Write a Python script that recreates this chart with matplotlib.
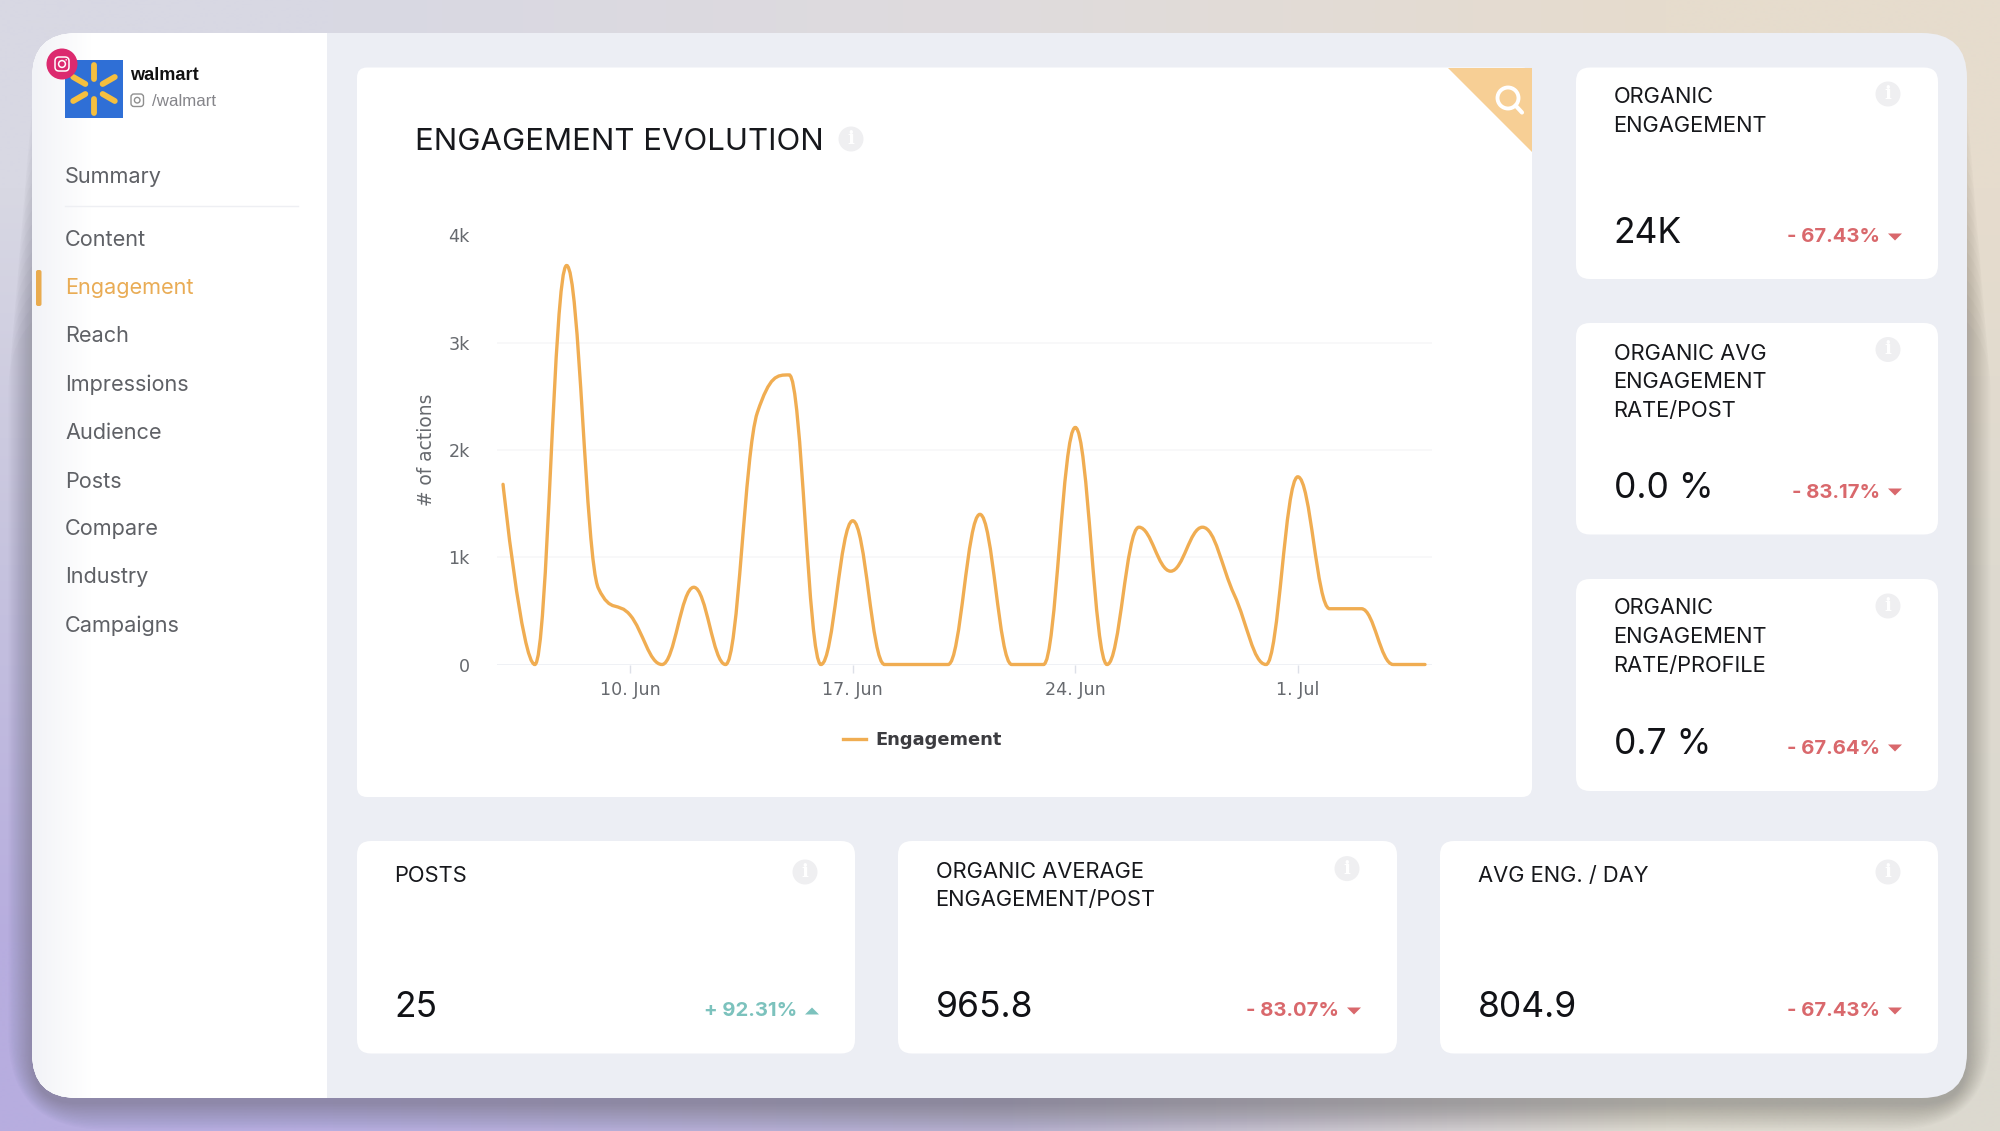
import numpy as np
import matplotlib
matplotlib.use('Agg')
import matplotlib.pyplot as plt
from matplotlib.patches import FancyBboxPatch, Polygon, Circle, Rectangle, PathPatch
from matplotlib.path import Path
from matplotlib.transforms import IdentityTransform

# daily engagement, 6 Jun .. 5 Jul (day number counted from 1 Jun, 1 Jul = 31)
days = np.arange(6, 36)
engagement = [1680, 0, 3720, 710, 460, 0, 720, 0, 2350, 2700,
              0, 1340, 0, 0, 0, 1400, 0, 0, 2210, 0,
              1280, 870, 1280, 650, 0, 1750, 520, 520, 0, 0]
x_ticks = [10, 17, 24, 31]
x_tick_labels = ['10. Jun', '17. Jun', '24. Jun', '1. Jul']
y_ticks = [0, 1000, 2000, 3000, 4000]
y_tick_labels = ['0', '1k', '2k', '3k', '4k']

menu_items = ['Summary', 'Content', 'Engagement', 'Reach', 'Impressions',
              'Audience', 'Posts', 'Compare', 'Industry', 'Campaigns']
menu_y = [175, 238.5, 286, 334, 383, 431, 479.5, 527, 575, 624]

card_titles = [['ORGANIC', 'ENGAGEMENT'],
               ['ORGANIC AVG', 'ENGAGEMENT', 'RATE/POST'],
               ['ORGANIC', 'ENGAGEMENT', 'RATE/PROFILE'],
               ['POSTS'],
               ['ORGANIC AVERAGE', 'ENGAGEMENT/POST'],
               ['AVG ENG. / DAY']]
card_values = ['24K', '0.0 %', '0.7 %', '25', '965.8', '804.9']
card_deltas = ['- 67.43%', '- 83.17%', '- 67.64%', '+ 92.31%', '- 83.07%', '- 67.43%']

# card boxes: left, top, right, bottom in pixels
card_boxes = [(1576, 67.5, 1938, 279), (1576, 323, 1938, 534.5), (1576, 579, 1938, 791),
              (357, 841, 855, 1053.5), (898, 841, 1397, 1053.5), (1440, 841, 1938, 1053.5)]
title_y = [95.5, 352, 607, 874, 870, 874]
value_y = [230, 485, 741, 1004, 1004, 1004]
delta_y = [236, 491, 747, 1010, 1010, 1010]
info_xy = [(1888, 94), (1888, 349.5), (1888, 606), (805, 872), (1347, 868.6), (1888, 872)]

ui_font = 'Inter'
ORANGE = '#f0ad52'
RED = '#d9686c'
TEAL = '#7cc2bd'
PANEL = '#eceef4'

fig = plt.figure(figsize=(20, 11.31), dpi=100)
bg = fig.add_axes([0, 0, 1, 1])
bg.axis('off')

# backdrop gradient
grad = np.array([[[0xd8, 0xd8, 0xe3], [0xdf, 0xdb, 0xdd], [0xe6, 0xdc, 0xcd]],
                 [[0xc6, 0xc3, 0xde], [0xd0, 0xcd, 0xd8], [0xde, 0xda, 0xd0]],
                 [[0xb7, 0xad, 0xdf], [0xb4, 0xae, 0xcc], [0xdc, 0xd9, 0xcf]]]) / 255.
bg.imshow(grad, extent=(0, 2000, 1131, 0), interpolation='bilinear', aspect='auto', zorder=0)


def rbox(l, t, r, b, rad, **kw):
    p = FancyBboxPatch((l, t), r - l, b - t, boxstyle='round,pad=0,rounding_size=%g' % rad,
                       linewidth=0, **kw)
    bg.add_patch(p)
    return p


# window shadow, mostly below and at the sides
for i in range(18):
    rbox(32 - i * 1.4, 60 + i * 14, 1967 + i * 1.4, 1098 + i * 1.5 + 6, 45 + i * 3, facecolor='k',
         alpha=0.013, zorder=1)

window = rbox(32, 33, 1967, 1098, 45, facecolor=PANEL, zorder=2)

# sidebar
side = bg.add_patch(Rectangle((32, 33), 295, 1065, facecolor='white', linewidth=0, zorder=3))
side.set_clip_path(window)
shade = np.linspace(0, 1, 60).reshape(1, -1)
side_grad = bg.imshow(shade, extent=(32, 92, 1098, 33), cmap=matplotlib.colors.LinearSegmentedColormap.from_list('s', ['#f2f3f7', '#ffffff']),
                      aspect='auto', zorder=3.5)
side_grad.set_clip_path(window)
bg.set_xlim(0, 2000)
bg.set_ylim(1131, 0)

# logo
bg.add_patch(Rectangle((65, 60), 58, 58, facecolor='#2f6fd6', linewidth=0, zorder=4))
for a in [90, 30, -30, -90, -150, 150]:
    c, s = np.cos(np.radians(a)), np.sin(np.radians(a))
    bg.plot([94 + 10 * c, 94 + 24 * c], [89 - 10 * s, 89 - 24 * s], color='#f5bf3f', lw=4.2,
            solid_capstyle='round', zorder=5)
bg.add_patch(Circle((62, 64), 15.5, facecolor='#dc2a6f', linewidth=0, zorder=6))
rbox(55, 57, 69, 71, 4, facecolor='none', edgecolor='white', zorder=7).set_linewidth(1.1)
bg.add_patch(Circle((62, 64), 3.4, facecolor='none', edgecolor='white', linewidth=1.1, zorder=7))
bg.add_patch(Circle((66.2, 59.8), 0.8, facecolor='white', linewidth=0, zorder=7))

bg.text(130, 76, 'walmart', family='Liberation Sans', weight='bold', fontsize=13.1, color='#111111',
        va='center', zorder=7)
rbox(131, 94, 143.5, 106.5, 3, facecolor='none', edgecolor='#8f8f8f', zorder=7).set_linewidth(1)
bg.add_patch(Circle((137.2, 100.2), 2.8, facecolor='none', edgecolor='#8f8f8f', linewidth=1, zorder=7))
bg.text(152, 101, '/walmart', family='Liberation Sans', fontsize=12.2, color='#85858a', va='center', zorder=7)

# menu
for item, y in zip(menu_items, menu_y):
    col = '#e9ac55' if item == 'Engagement' else '#5f6166'
    bg.text(65, y + 2, item, family=ui_font, fontsize=15.6, color=col, va='center', zorder=7)
bg.plot([65, 298], [206, 206], color='#eeeff3', lw=1, zorder=4)
rbox(36, 270, 41.5, 306, 2, facecolor='#e9ab4e', zorder=6)

# main panel
rbox(357, 67.5, 1532, 797, 10, facecolor='white', zorder=4)
bg.add_patch(Polygon([(1448, 67.5), (1532, 67.5), (1532, 152)], facecolor='#f7cf95', linewidth=0, zorder=5))
bg.add_patch(Circle((1508, 98), 10.5, facecolor='none', edgecolor='white', linewidth=2.8, zorder=6))
bg.plot([1515.5, 1522], [105.5, 112.5], color='white', lw=3, solid_capstyle='round', zorder=6)
bg.text(415, 141.5, 'ENGAGEMENT EVOLUTION', family=ui_font, fontsize=22.4, color='#17181c', va='center', zorder=7)


def info(x, y):
    bg.add_patch(Circle((x, y), 12.5, facecolor='#efeff1', linewidth=0, zorder=6))
    bg.text(x, y, 'i', family='DejaVu Serif', weight='bold', fontsize=13, color='white',
            ha='center', va='center', zorder=7)


info(851, 139)

# metric cards
for i in range(6):
    l, t, r, b = card_boxes[i]
    rbox(l, t, r, b, 14, facecolor='white', zorder=4)
    tx = l + 37.5
    for j, line in enumerate(card_titles[i]):
        bg.text(tx, title_y[i] + 1.5 + j * 28.6, line, family=ui_font, fontsize=15.8, color='#17181c',
                va='center', zorder=7)
    bg.text(tx, value_y[i] + 3.5, card_values[i], family=ui_font, fontsize=25.5, color='#111216',
            va='center', zorder=7)
    up = card_deltas[i].startswith('+')
    col = TEAL if up else RED
    bg.text(r - 58, delta_y[i] + 1.5, card_deltas[i], family=ui_font, weight='bold', fontsize=14.6, color=col,
            ha='right', va='center', zorder=7)
    ax_c, ay = r - 43, delta_y[i] + 1
    if up:
        tri = [(ax_c - 7, ay + 3.5), (ax_c + 7, ay + 3.5), (ax_c, ay - 3.5)]
    else:
        tri = [(ax_c - 7, ay - 3.5), (ax_c + 7, ay - 3.5), (ax_c, ay + 3.5)]
    bg.add_patch(Polygon(tri, facecolor=col, linewidth=0, zorder=7))
    info(*info_xy[i])

# chart
ax = fig.add_axes([497 / 2000, 1 - 664.5 / 1131, 935 / 2000, 429 / 1131], zorder=5)
ax.patch.set_alpha(0)
ax.set_xlim(5.81, 35.22)
ax.set_ylim(0, 4000)
for s in ax.spines.values():
    s.set_visible(False)
ax.yaxis.grid(True, color='#f6f6f8', lw=1.1)
ax.set_axisbelow(True)
ax.axhline(0, color='#eef0f5', lw=1.2, zorder=1)
ax.set_xticks(x_ticks)
ax.set_xticklabels(x_tick_labels, family='DejaVu Sans', fontsize=12.6, color='#66696e')
ax.set_yticks(y_ticks)
ax.set_yticklabels(y_tick_labels, family='DejaVu Sans', fontsize=12.6, color='#66696e')
ax.tick_params(axis='x', length=6, width=1, color='#dde0e8', pad=6)
ax.tick_params(axis='y', length=0, pad=19.5)
ax.set_ylabel('# of actions', family='DejaVu Sans', fontsize=13.4, color='#66696e', labelpad=9)


# highcharts style spline through the daily values
def spline_path(xs, ys):
    n = len(xs)
    smooth = 1.5
    right = [None] * n
    left = [None] * n
    for i in range(1, n - 1):
        lx = (smooth * xs[i] + xs[i - 1]) / (smooth + 1)
        ly = (smooth * ys[i] + ys[i - 1]) / (smooth + 1)
        rx = (smooth * xs[i] + xs[i + 1]) / (smooth + 1)
        ry = (smooth * ys[i] + ys[i + 1]) / (smooth + 1)
        corr = (ry - ly) * (rx - xs[i]) / (rx - lx) + ys[i] - ry
        ly += corr
        ry += corr
        if ly > ys[i - 1] and ly > ys[i]:
            ly = max(ys[i - 1], ys[i])
            ry = 2 * ys[i] - ly
        elif ly < ys[i - 1] and ly < ys[i]:
            ly = min(ys[i - 1], ys[i])
            ry = 2 * ys[i] - ly
        if ry > ys[i + 1] and ry > ys[i]:
            ry = max(ys[i + 1], ys[i])
            ly = 2 * ys[i] - ry
        elif ry < ys[i + 1] and ry < ys[i]:
            ry = min(ys[i + 1], ys[i])
            ly = 2 * ys[i] - ry
        left[i] = (lx, ly)
        right[i] = (rx, ry)
    left[n - 1] = (xs[n - 1], ys[n - 1])
    right[0] = (xs[0], ys[0])
    verts = [(xs[0], ys[0])]
    codes = [Path.MOVETO]
    for i in range(1, n):
        verts += [right[i - 1], left[i], (xs[i], ys[i])]
        codes += [Path.CURVE4] * 3
    return Path(verts, codes)


ax.add_patch(PathPatch(spline_path(days, engagement), facecolor='none', edgecolor=ORANGE, lw=2.4,
                       clip_on=False, capstyle='round', zorder=3))

ax.plot([], [], color=ORANGE, lw=2.4, label='Engagement')
leg = ax.legend(loc='center', bbox_to_anchor=(922, 1131 - 740), bbox_transform=IdentityTransform(), frameon=False,
                prop={'family': 'DejaVu Sans', 'weight': 'bold', 'size': 12.9}, handlelength=1.3,
                handletextpad=0.5)
for t in leg.get_texts():
    t.set_color('#3c3c40')

fig.savefig('out.png', dpi=100)
